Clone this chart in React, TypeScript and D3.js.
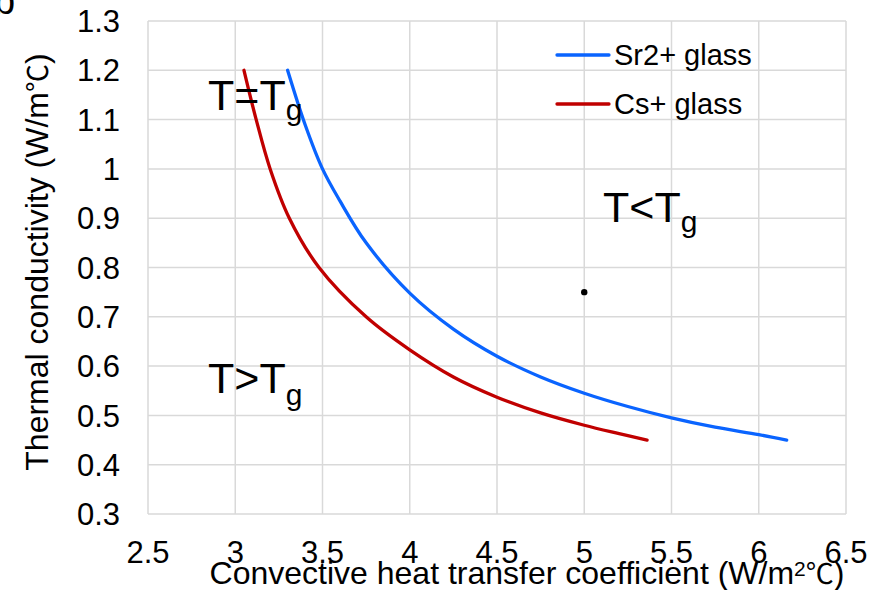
import React from "react";
import * as d3 from "d3";

// axis ticks
const xTicks = [2.5, 3, 3.5, 4, 4.5, 5, 5.5, 6, 6.5];
const yTicks = [0.3, 0.4, 0.5, 0.6, 0.7, 0.8, 0.9, 1, 1.1, 1.2, 1.3];

// Sr2+ glass curve (convective coefficient, thermal conductivity)
const sr2H = [3.3, 3.4, 3.5, 3.6, 3.75, 4.0, 4.25, 4.5, 4.75, 5.0, 5.25, 5.5, 5.75, 6.0, 6.16];
const sr2K = [1.2, 1.09, 1.0, 0.935, 0.85, 0.748, 0.675, 0.62, 0.578, 0.545, 0.518, 0.495, 0.476, 0.461, 0.45];

// Cs+ glass curve
const csH = [3.05, 3.12, 3.2, 3.31, 3.48, 3.75, 4.0, 4.25, 4.5, 4.75, 5.0, 5.2, 5.36];
const csK = [1.2, 1.1, 1.0, 0.9, 0.8, 0.7, 0.633, 0.578, 0.537, 0.505, 0.48, 0.463, 0.45];

const seriesNames = ["Sr2+ glass", "Cs+ glass"];
const seriesColors = ["#0a64ff", "#c00000"];

// single marker point
const dotH = [5];
const dotK = [0.75];

const W = 869;
const H = 590;
const FONT = "'Liberation Sans', Arial, sans-serif";
const CJK = "'Noto Sans CJK SC', sans-serif";

export default function App() {
  const x = d3.scaleLinear().domain([2.5, 6.5]).range([148, 846]);
  const y = d3.scaleLinear().domain([0.3, 1.3]).range([514, 21]);

  const line = d3
    .line<[number, number]>()
    .x((d) => x(d[0]))
    .y((d) => y(d[1]))
    .curve(d3.curveCatmullRom.alpha(0.5));

  const series = [
    sr2H.map((h, i) => [h, sr2K[i]] as [number, number]),
    csH.map((h, i) => [h, csK[i]] as [number, number]),
  ];

  return (
    <svg
      width={W}
      height={H}
      style={{ position: "absolute", left: 0, top: 0, background: "#fff" }}
      fontFamily={FONT}
    >
      {/* panel letter, cut off at top */}
      <text x={-6} y={14} fontSize={38} fill="#000">b</text>

      {/* grid */}
      <g stroke="#d9d9d9" strokeWidth={1.5}>
        {xTicks.map((t) => (
          <line key={"gx" + t} x1={x(t)} x2={x(t)} y1={y(1.3)} y2={y(0.3)} />
        ))}
        {yTicks.map((t) => (
          <line key={"gy" + t} x1={x(2.5)} x2={x(6.5)} y1={y(t)} y2={y(t)} />
        ))}
      </g>

      {/* tick labels */}
      <g fontSize={31} fill="#000">
        {yTicks.map((t) => (
          <text key={"ty" + t} x={120} y={y(t)} dy="0.36em" textAnchor="end">
            {String(t)}
          </text>
        ))}
        {xTicks.map((t) => (
          <text key={"tx" + t} x={x(t)} y={563} textAnchor="middle">
            {String(t)}
          </text>
        ))}
      </g>

      {/* curves */}
      {series.map((s, i) => (
        <path
          key={seriesNames[i]}
          d={line(s) || ""}
          fill="none"
          stroke={seriesColors[i]}
          strokeWidth={3.3}
          strokeLinecap="round"
        />
      ))}

      {dotH.map((h, i) => (
        <circle key={"dot" + i} cx={x(h)} cy={y(dotK[i])} r={3.2} fill="#000" />
      ))}

      {/* legend */}
      <g fontSize={29} fill="#000">
        {seriesNames.map((n, i) => (
          <g key={"lg" + n} transform={`translate(0,${i * 49})`}>
            <line x1={557} x2={609} y1={55} y2={55} stroke={seriesColors[i]} strokeWidth={3.3} strokeLinecap="round" />
            <text x={614} y={65}>{n}</text>
          </g>
        ))}
      </g>

      {/* region annotations */}
      <g fontSize={43} fill="#000">
        <text x={208} y={110}>
          T=T<tspan fontSize={30} dy={10}>g</tspan>
        </text>
        <text x={208} y={393}>
          T&gt;T<tspan fontSize={30} dy={12}>g</tspan>
        </text>
        <text x={603} y={222}>
          T&lt;T<tspan fontSize={30} dy={10}>g</tspan>
        </text>
      </g>

      {/* axis titles */}
      <text
        transform={`translate(48,${262}) rotate(-90)`}
        textAnchor="middle"
        fontSize={32}
        fill="#000"
      >
        Thermal conductivity (W/m<tspan fontFamily={CJK} fontSize={28}>℃</tspan>)
      </text>
      <text x={527} y={584} textAnchor="middle" fontSize={32} fill="#000">
        Convective heat transfer coefficient (W/m
        <tspan fontSize={21} dy={-8}>2</tspan>
        <tspan dy={8} fontFamily={CJK} fontSize={28}>℃</tspan>)
      </text>
    </svg>
  );
}
